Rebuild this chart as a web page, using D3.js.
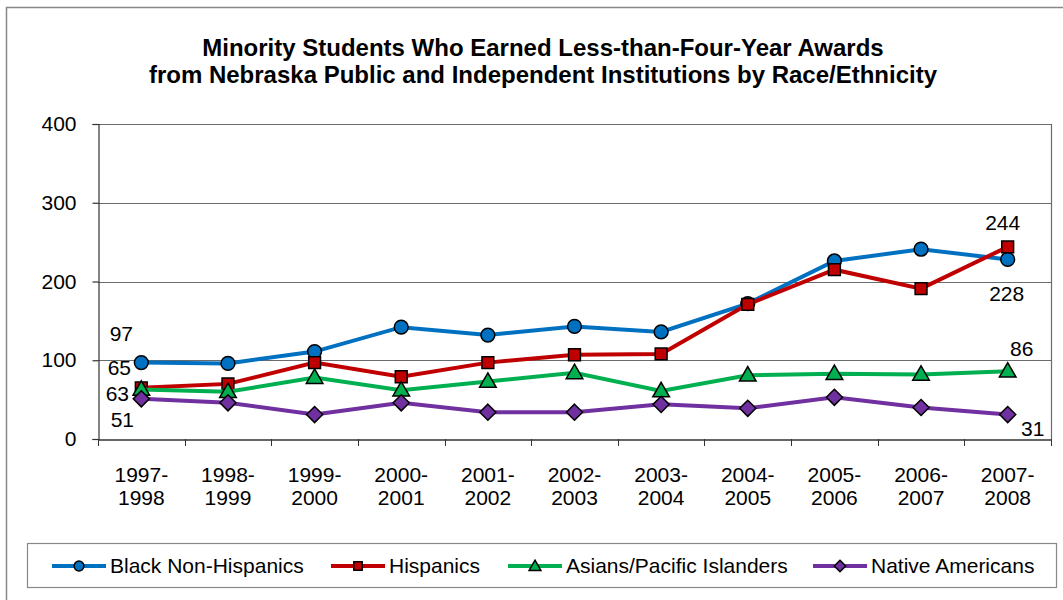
<!DOCTYPE html>
<html>
<head>
<meta charset="utf-8">
<script src="https://cdn.jsdelivr.net/npm/d3@7"></script>
<style>
  body { margin: 0; background: #fff; }
  svg text { font-family: "Liberation Sans", Arial, sans-serif; fill: #000; }
</style>
</head>
<body>
<div id="chart"></div>
<script>
// data
const years = ["1997-1998", "1998-1999", "1999-2000", "2000-2001", "2001-2002", "2002-2003",
               "2003-2004", "2004-2005", "2005-2006", "2006-2007", "2007-2008"];
const blackNonHispanics = [97, 96, 111, 142, 132, 143, 136, 172, 226, 241, 228];
const hispanics         = [65, 70, 97, 79, 97, 107, 108, 171, 215, 191, 244];
const asians            = [63, 60, 78, 62, 73, 84, 61, 81, 83, 82, 86];
const nativeAmericans   = [51, 46, 31, 46, 34, 34, 44, 39, 53, 40, 31];
const yTicks = [0, 100, 200, 300, 400];
const titleLines = ["Minority Students Who Earned Less-than-Four-Year Awards",
                    "from Nebraska Public and Independent Institutions by Race/Ethnicity"];

const series = [
  {name: "Black Non-Hispanics", values: blackNonHispanics, color: "#0070C0", symbol: "circle"},
  {name: "Hispanics", values: hispanics, color: "#C00000", symbol: "square"},
  {name: "Asians/Pacific Islanders", values: asians, color: "#00B050", symbol: "triangle"},
  {name: "Native Americans", values: nativeAmericans, color: "#7030A0", symbol: "diamond"}
];

// where the first/last value labels sit relative to their point (dx, dy)
const labelOffsets = [
  {first: [-20, -29], last: [-1, 34]},
  {first: [-22, -20], last: [-5, -24]},
  {first: [-24, 4],   last: [14, -23]},
  {first: [-19, 21],  last: [25, 14]}
];

const width = 1063, height = 600;
const margin = {left: 98, right: 12, top: 124, bottom: 161};
const fontSize = "21px";

const svg = d3.select("#chart").append("svg")
    .attr("width", width)
    .attr("height", height);

// outer chart frame
svg.append("rect")
    .attr("x", 6.5).attr("y", 7.5)
    .attr("width", width + 10).attr("height", height + 10)
    .attr("fill", "none")
    .attr("stroke", "#888")
    .attr("stroke-width", 1.5);

svg.append("text")
    .attr("x", 543)
    .attr("y", 56)
    .attr("text-anchor", "middle")
    .style("font-weight", "bold")
    .style("font-size", "24px")
    .selectAll("tspan")
    .data(titleLines)
    .enter()
    .append("tspan")
      .attr("x", 543)
      .attr("dy", (d, i) => i == 0 ? 0 : 27)
      .text(d => d);

const x = d3.scaleBand()
    .domain(years)
    .range([margin.left, width - margin.right]);

const y = d3.scaleLinear()
    .domain([0, 400])
    .range([height - margin.bottom, margin.top]);

// gridlines
svg.append("g")
    .selectAll("line")
    .data(yTicks.filter(d => d > 0))
    .enter()
    .append("line")
      .attr("x1", margin.left).attr("x2", width - margin.right)
      .attr("y1", d => Math.round(y(d)) + 0.5).attr("y2", d => Math.round(y(d)) + 0.5)
      .attr("stroke", "#6b6b6b")
      .attr("stroke-width", 1.2);

// right border of plot area
svg.append("line")
    .attr("x1", width - margin.right + 0.5).attr("x2", width - margin.right + 0.5)
    .attr("y1", margin.top).attr("y2", height - margin.bottom)
    .attr("stroke", "#6b6b6b")
    .attr("stroke-width", 1.2);

// y axis
const yAxis = svg.append("g")
    .attr("transform", `translate(${margin.left + 0.5},0)`)
    .call(d3.axisLeft(y).tickValues(yTicks).tickSize(6).tickPadding(16));
yAxis.selectAll("text").style("font-size", fontSize).style("font-family", "Liberation Sans, Arial, sans-serif");
yAxis.selectAll("line, path").attr("stroke", "#333").attr("stroke-width", 1.2);

// x axis
const xAxis = svg.append("g")
    .attr("transform", `translate(0,${Math.round(y(0)) + 0.5})`)
    .call(d3.axisBottom(x).tickSize(0).tickFormat(""));
xAxis.select("path").attr("stroke", "#333").attr("stroke-width", 1.5);

svg.append("g")
    .selectAll("line")
    .data(d3.range(years.length + 1))
    .enter()
    .append("line")
      .attr("x1", i => Math.round(margin.left + i * x.step()) + 0.5)
      .attr("x2", i => Math.round(margin.left + i * x.step()) + 0.5)
      .attr("y1", y(0)).attr("y2", y(0) + 7)
      .attr("stroke", "#333");

svg.append("g")
    .selectAll("text")
    .data(years)
    .enter()
    .append("text")
      .attr("text-anchor", "middle")
      .style("font-size", fontSize)
      .each(function(d) {
        let parts = d.split("-");
        let cx = x(d) + x.bandwidth() / 2;
        d3.select(this).append("tspan").attr("x", cx).attr("y", 482).text(parts[0] + "-");
        d3.select(this).append("tspan").attr("x", cx).attr("y", 505).text(parts[1]);
      });

// diamond as a rotated square, like the spreadsheet marker
const squareDiamond = {
  draw(context, size) {
    const r = Math.sqrt(size / 2);
    context.moveTo(0, -r);
    context.lineTo(r, 0);
    context.lineTo(0, r);
    context.lineTo(-r, 0);
    context.closePath();
  }
};

const symbols = {
  circle: d3.symbolCircle,
  square: d3.symbolSquare,
  triangle: d3.symbolTriangle,
  diamond: squareDiamond
};
const symbolSize = {circle: 150, square: 140, triangle: 120, diamond: 130};

const line = d3.line()
    .x((d, i) => x(years[i]) + x.bandwidth() / 2)
    .y(d => y(d));

series.forEach((s, k) => {
  let g = svg.append("g").attr("class", "series");

  g.append("path")
      .attr("d", line(s.values))
      .attr("fill", "none")
      .attr("stroke", s.color)
      .attr("stroke-width", 4);

  g.selectAll("path.marker")
      .data(s.values)
      .enter()
      .append("path")
        .attr("class", "marker")
        .attr("d", d3.symbol().type(symbols[s.symbol]).size(symbolSize[s.symbol]))
        .attr("transform", (d, i) => `translate(${x(years[i]) + x.bandwidth() / 2},${y(d) + (s.symbol == "triangle" ? 1 : 0)})`)
        .attr("fill", s.color)
        .attr("stroke", "#000")
        .attr("stroke-width", 1.5);
});

// value labels on the first and last point
series.forEach((s, k) => {
  let last = s.values.length - 1;
  [[0, labelOffsets[k].first], [last, labelOffsets[k].last]].forEach(([i, off]) => {
    svg.append("text")
        .attr("x", x(years[i]) + x.bandwidth() / 2 + off[0])
        .attr("y", y(s.values[i]) + off[1])
        .attr("text-anchor", "middle")
        .attr("dominant-baseline", "central")
        .style("font-size", fontSize)
        .text(s.values[i]);
  });
});

// legend
const legend = svg.append("g");
legend.append("rect")
    .attr("x", 27.5).attr("y", 543.5)
    .attr("width", 1029).attr("height", 44)
    .attr("fill", "#fff")
    .attr("stroke", "#888")
    .attr("stroke-width", 1.2);

const legendX = [52, 331, 508, 813];
series.forEach((s, k) => {
  let item = legend.append("g").attr("transform", `translate(${legendX[k]},566)`);
  item.append("line")
      .attr("x1", 0).attr("x2", 54)
      .attr("stroke", s.color)
      .attr("stroke-width", 4);
  item.append("path")
      .attr("d", d3.symbol().type(symbols[s.symbol]).size(symbolSize[s.symbol] * 0.5))
      .attr("transform", `translate(27,${s.symbol == "triangle" ? 1 : 0})`)
      .attr("fill", s.color)
      .attr("stroke", "#000")
      .attr("stroke-width", 1.5);
  item.append("text")
      .attr("x", 58)
      .attr("dy", "0.35em")
      .style("font-size", fontSize)
      .text(s.name);
});
</script>
</body>
</html>
